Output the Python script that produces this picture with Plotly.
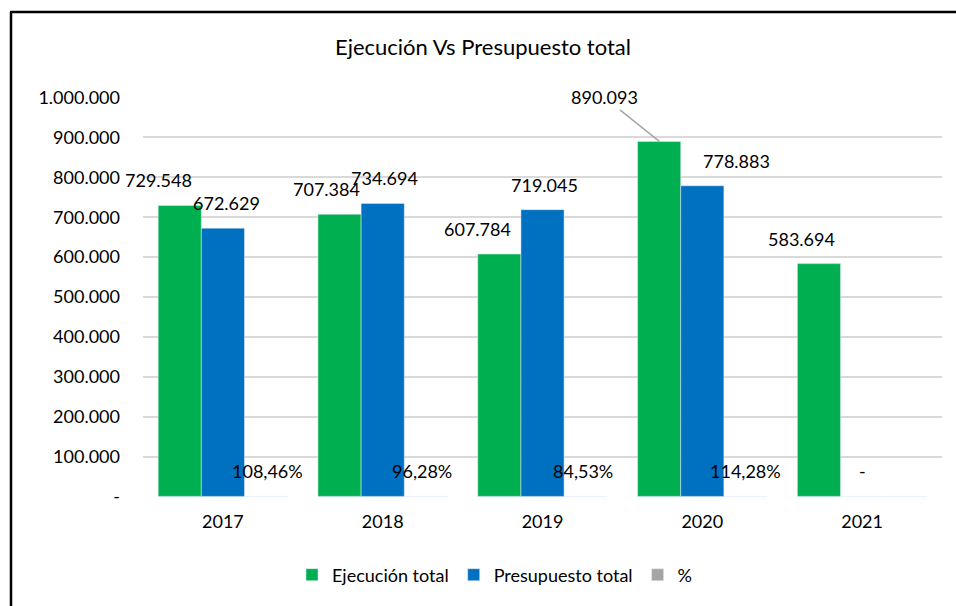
import plotly.graph_objects as go

# ---- data ----
years = ["2017", "2018", "2019", "2020", "2021"]
ejecucion = [729548, 707384, 607784, 890093, 583694]
presupuesto = [672629, 734694, 719045, 778883, 0]
porcentaje = [1.0846, 0.9628, 0.8453, 1.1428, None]
y_tickvals = [0, 100000, 200000, 300000, 400000, 500000, 600000, 700000, 800000, 900000, 1000000]
y_ticktext = ["-", "100.000", "200.000", "300.000", "400.000", "500.000",
              "600.000", "700.000", "800.000", "900.000", "1.000.000"]

GREEN = "#00B050"
BLUE = "#0070C0"
GRAY = "#A5A5A5"
FONT = "Lato"
W, H = 956, 606
L, R, T, B = 143, 14, 97, 109


def fmt_num(v):
    if v == 0:
        return "-"
    return f"{v:,.0f}".replace(",", ".")


def fmt_pct(v):
    if v is None:
        return ""
    return f"{v*100:.2f}%".replace(".", ",")


fig = go.Figure()
fig.add_bar(x=years, y=ejecucion, name="Ejecución total", marker_color=GREEN)
fig.add_bar(x=years, y=presupuesto, name="Presupuesto total", marker_color=BLUE)
fig.add_bar(x=years, y=[p if p is not None else 0 for p in porcentaje], name="%", marker_color=GRAY)

# label style offsets (pixels relative to category centre)
green_dx = [-64, -56, -65, None, -61]
blue_dx = [4, 2, 2, 34, 0]
pct_dx = [45, 39, 40, 43, 0]
LBL = dict(family=FONT, size=18, color="#000000")

for i, yr in enumerate(years):
    # category index i on the category axis
    if green_dx[i] is not None:
        fig.add_annotation(x=i, y=ejecucion[i], text=fmt_num(ejecucion[i]), showarrow=False,
                           xshift=green_dx[i], yshift=25, font=LBL)
    else:
        fig.add_annotation(x=i, y=ejecucion[i], text=fmt_num(ejecucion[i]), showarrow=True,
                           xshift=-43, ax=-55, ay=-44, arrowhead=0, arrowwidth=1.5,
                           arrowcolor="#A6A6A6", standoff=0, font=LBL)
    fig.add_annotation(x=i, y=presupuesto[i], text=fmt_num(presupuesto[i]), showarrow=False,
                       xshift=blue_dx[i], yshift=25, font=LBL)
    if porcentaje[i] is not None:
        fig.add_annotation(x=i, y=0, text=fmt_pct(porcentaje[i]), showarrow=False,
                           xshift=pct_dx[i], yshift=25, font=LBL)

# outer frame (top and left edges)
fig.add_shape(type="line", xref="paper", yref="paper",
              x0=(10 - L) / (W - L - R), x1=(W + 5 - L) / (W - L - R),
              y0=1 + (T - 12) / (H - T - B), y1=1 + (T - 12) / (H - T - B),
              line=dict(color="#000000", width=2.5))
fig.add_shape(type="line", xref="paper", yref="paper",
              x0=(11 - L) / (W - L - R), x1=(11 - L) / (W - L - R),
              y0=1 + (T - 12) / (H - T - B), y1=-(B + 10) / (H - T - B),
              line=dict(color="#000000", width=2.5))

fig.update_layout(
    width=W, height=H,
    margin=dict(l=L, r=R, t=T, b=B),
    paper_bgcolor="white", plot_bgcolor="white",
    barmode="group", bargap=0.19, bargroupgap=0,
    font=dict(family=FONT, size=18, color="#000000"),
    title=dict(text="Ejecución Vs Presupuesto total", x=483 / W, xanchor="center",
               y=1 - 47 / H, yanchor="middle", font=dict(family=FONT, size=22, color="#000000")),
    legend=dict(orientation="h", x=(495 - L) / (W - L - R), xanchor="center",
                y=-(575 - (H - B)) / (H - T - B), yanchor="middle",
                font=dict(family=FONT, size=18), itemwidth=30, traceorder="normal"),
    showlegend=True,
)
fig.update_yaxes(range=[-1500, 1001500], tickvals=y_tickvals, ticktext=y_ticktext,
                 showgrid=True, gridcolor="#D9D9D9", gridwidth=1.5, zeroline=False,
                 showline=False, ticks="", ticklabelstandoff=22,
                 tickfont=dict(family=FONT, size=18))
fig.update_xaxes(type="category", range=[-0.5, len(years) - 0.5], showgrid=False,
                 showline=False, ticks="", ticklabelstandoff=12,
                 tickfont=dict(family=FONT, size=18))

fig.write_html("out.html", config={"displayModeBar": False},
               post_script="document.body.style.margin='0';document.body.style.padding='0';")
